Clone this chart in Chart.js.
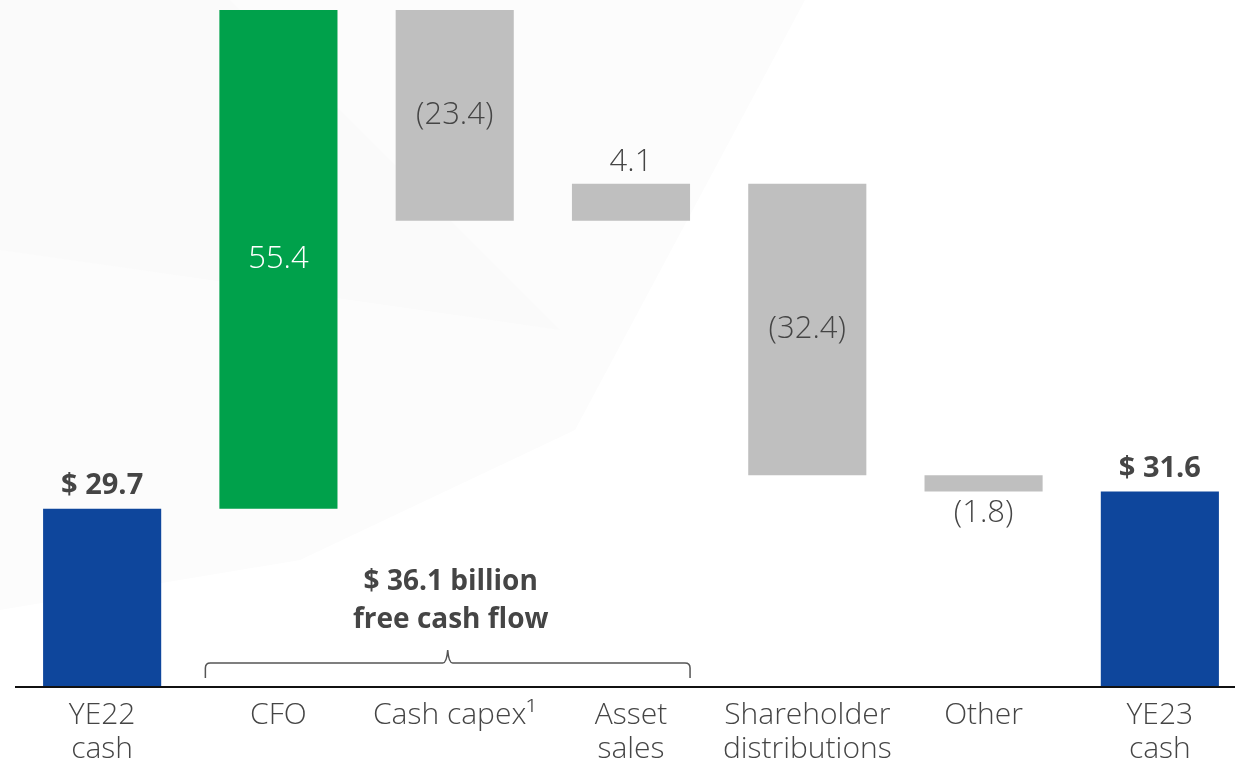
<!DOCTYPE html>
<html>
<head>
<meta charset="utf-8">
<title>Cash flow waterfall</title>
<script src="https://cdn.jsdelivr.net/npm/chart.js@4.4.1/dist/chart.umd.min.js"></script>
<style>
  html, body { margin: 0; padding: 0; background: #fff; }
  #wrap { position: relative; width: 1235px; height: 764px; overflow: hidden; }
  /* faint slide background shapes */
  .shade { position: absolute; left: 0; top: 0; width: 1235px; height: 764px; }
  .shade.a { background: #fcfcfc; clip-path: polygon(0 0, 805px 0, 575px 430px, 300px 560px, 0 610px); }
  .shade.b { background: #fafafa; clip-path: polygon(0 0, 230px 0, 560px 330px, 0 250px); }
  canvas { position: absolute; left: 0; top: 0; }
</style>
</head>
<body>
<div id="wrap">
  <div class="shade a"></div>
  <div class="shade b"></div>
  <canvas id="cashChart" width="1250" height="764"></canvas>
</div>
<script>
// datos del gráfico (miles de millones USD)
const categorias = [["YE22", "cash"], "CFO", "Cash capex\u00B9", ["Asset", "sales"], ["Shareholder", "distributions"], "Other", ["YE23", "cash"]];
const cajaInicial = 29.7;
const cambios = [55.4, -23.4, 4.1, -32.4, -1.8];
const cajaFinal = 31.6;
const flujoLibreTexto = ["$ 36.1 billion", "free cash flow"];

const AZUL = "#0e469c";
const VERDE = "#00a14b";
const GRIS = "#bfbfbf";
const TEXTO = "#454545";
const PISO_EJE = 10; // el eje vertical está cortado, no empieza en cero

// construir barras flotantes del waterfall
const barras = [];
const colores = [];
const etiquetas = [];
barras.push([PISO_EJE, cajaInicial]);
colores.push(AZUL);
etiquetas.push("$ " + cajaInicial.toFixed(1));
let acumulado = cajaInicial;
cambios.forEach((c, i) => {
  const inicio = acumulado;
  acumulado = acumulado + c;
  barras.push([Math.min(inicio, acumulado), Math.max(inicio, acumulado)]);
  colores.push(i === 0 ? VERDE : GRIS);
  etiquetas.push(c < 0 ? "(" + Math.abs(c).toFixed(1) + ")" : c.toFixed(1));
});
barras.push([PISO_EJE, cajaFinal]);
colores.push(AZUL);
etiquetas.push("$ " + cajaFinal.toFixed(1));

const FUENTE = "'Open Sans', 'DejaVu Sans', sans-serif";

// etiquetas de valor sobre/dentro de las barras
const etiquetasPlugin = {
  id: "etiquetasValor",
  afterDatasetsDraw(chart) {
    const ctx = chart.ctx;
    const meta = chart.getDatasetMeta(0);
    ctx.save();
    ctx.textAlign = "center";
    ctx.textBaseline = "middle";
    meta.data.forEach((bar, i) => {
      const top = Math.min(bar.y, bar.base);
      const bottom = Math.max(bar.y, bar.base);
      const esTotal = i === 0 || i === meta.data.length - 1;
      let y;
      if (esTotal) {
        ctx.font = "bold 29px " + FUENTE;
        ctx.fillStyle = TEXTO;
        y = top - 23;
      } else {
        const cambio = cambios[i - 1];
        ctx.font = "300 31px " + FUENTE;
        if (bottom - top > 60) {
          y = (top + bottom) / 2;
          ctx.fillStyle = i === 1 ? "#ffffff" : TEXTO;
        } else {
          y = cambio >= 0 ? top - 22 : bottom + 22;
          ctx.fillStyle = TEXTO;
        }
      }
      ctx.fillText(etiquetas[i], bar.x, y);
    });
    ctx.restore();
  }
};

// llave de flujo de caja libre (CFO + capex + ventas de activos)
const llavePlugin = {
  id: "llaveFCF",
  afterDraw(chart) {
    const ctx = chart.ctx;
    const meta = chart.getDatasetMeta(0);
    const cfo = meta.data[1];
    const ventas = meta.data[3];
    const izq = cfo.x - cfo.width / 2 - 14;
    const der = ventas.x + ventas.width / 2;
    const cx = (izq + der) / 2;
    const yLinea = 663;
    const yPunta = 678;
    const yPico = 650;
    ctx.save();
    ctx.strokeStyle = "#555";
    ctx.lineWidth = 1.5;
    ctx.beginPath();
    ctx.moveTo(izq, yPunta);
    ctx.lineTo(izq, yLinea + 5);
    ctx.quadraticCurveTo(izq, yLinea, izq + 5, yLinea);
    ctx.lineTo(cx - 5, yLinea);
    ctx.quadraticCurveTo(cx - 1, yLinea, cx, yPico);
    ctx.quadraticCurveTo(cx + 1, yLinea, cx + 5, yLinea);
    ctx.lineTo(der - 5, yLinea);
    ctx.quadraticCurveTo(der, yLinea, der, yLinea + 5);
    ctx.lineTo(der, yPunta);
    ctx.stroke();

    ctx.fillStyle = TEXTO;
    ctx.font = "bold 28px " + FUENTE;
    ctx.textAlign = "center";
    ctx.textBaseline = "middle";
    ctx.fillText(flujoLibreTexto[0], cx + 3, 582);
    ctx.fillText(flujoLibreTexto[1], cx + 3, 620);
    ctx.restore();
  }
};

// línea del eje x a todo lo ancho
const ejePlugin = {
  id: "ejeX",
  afterDatasetsDraw(chart) {
    const ctx = chart.ctx;
    const y = chart.chartArea.bottom + 1;
    ctx.save();
    ctx.strokeStyle = "#111";
    ctx.lineWidth = 2;
    ctx.beginPath();
    ctx.moveTo(15, y);
    ctx.lineTo(chart.width, y);
    ctx.stroke();
    ctx.restore();
  }
};

new Chart(document.getElementById("cashChart").getContext("2d"), {
  type: "bar",
  data: {
    labels: categorias,
    datasets: [
      {
        data: barras,
        backgroundColor: colores,
        borderWidth: 0,
        categoryPercentage: 1,
        barPercentage: 0.67,
      },
    ],
  },
  options: {
    responsive: false,
    animation: false,
    layout: { padding: { top: 10, left: 14, right: 2, bottom: 0 } },
    plugins: {
      legend: { display: false },
      tooltip: { enabled: false },
    },
    scales: {
      y: {
        display: false,
        min: PISO_EJE,
        max: 85.1,
      },
      x: {
        grid: { display: false },
        border: { display: false },
        ticks: {
          color: TEXTO,
          padding: 5,
          maxRotation: 0,
          autoSkip: false,
          font: { family: FUENTE, size: 30, weight: "300", lineHeight: 1.13 },
        },
        afterFit(scale) {
          scale.height = 78;
        },
      },
    },
  },
  plugins: [etiquetasPlugin, llavePlugin, ejePlugin],
});
</script>
</body>
</html>
